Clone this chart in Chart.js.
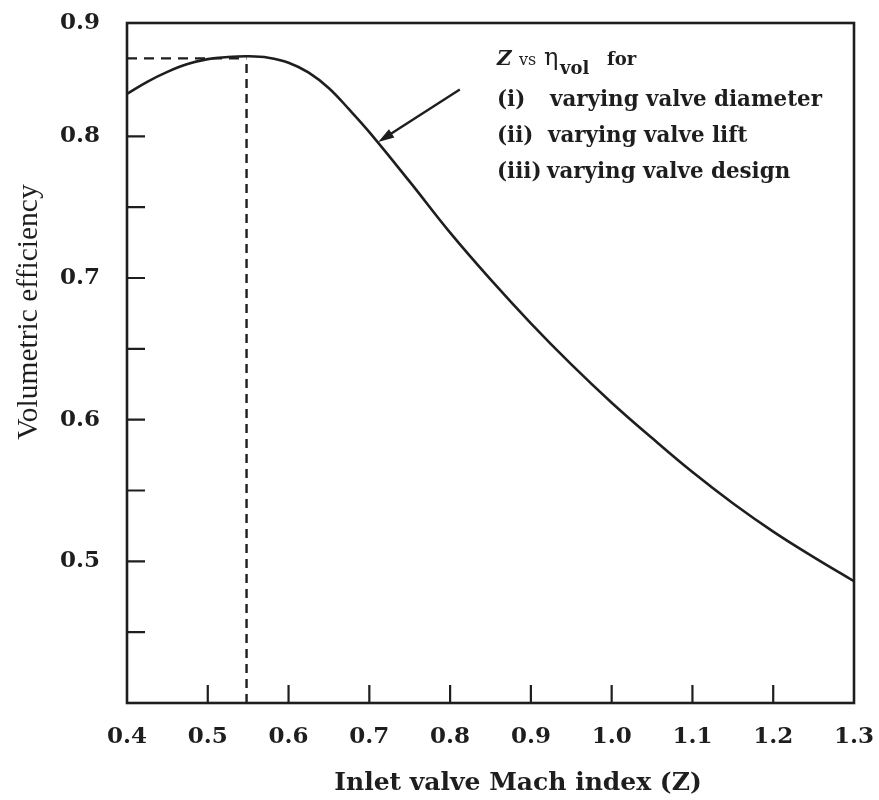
<!DOCTYPE html>
<html>
<head>
<meta charset="utf-8">
<script src="https://cdn.jsdelivr.net/npm/chart.js@4.4.0/dist/chart.umd.min.js"></script>
<style>
  html, body { margin: 0; padding: 0; background: #fff; }
  #wrap { width: 879px; height: 800px; }
</style>
</head>
<body>
<div id="wrap"><canvas id="c" width="879" height="800"></canvas></div>
<script>
// Curve: inlet valve Mach index Z vs volumetric efficiency
const zVals   = [0.40, 0.425, 0.45, 0.475, 0.50, 0.525, 0.55, 0.575, 0.60, 0.625, 0.65, 0.675, 0.70,
                 0.75, 0.80, 0.85, 0.90, 0.95, 1.00, 1.05, 1.10, 1.15, 1.20, 1.25, 1.30];
const etaVals = [0.830, 0.8385, 0.8455, 0.851, 0.8545, 0.856, 0.8565, 0.8555, 0.852, 0.845, 0.834, 0.819, 0.803,
                 0.768, 0.732, 0.699, 0.668, 0.639, 0.612, 0.587, 0.563, 0.541, 0.521, 0.503, 0.486];

// Dashed guide lines to the optimum
const zOpt   = 0.548;
const etaOpt = 0.855;

// Axis ticks
const xTicks = [0.4, 0.5, 0.6, 0.7, 0.8, 0.9, 1.0, 1.1, 1.2, 1.3];
const yTicks = [0.45, 0.5, 0.55, 0.6, 0.65, 0.7, 0.75, 0.8, 0.88];
const yTickLabels = ['', '0.5', '', '0.6', '', '0.7', '', '0.8', '0.9'];

// Annotation arrow (tail -> head, data coords)
const arrowTail = [0.812, 0.833];
const arrowHead = [0.711, 0.796];

const INK = '#1e1e1e';
const SERIF = '"DejaVu Serif", serif';

const curve = zVals.map((z, i) => ({ x: z, y: etaVals[i] }));

// set a font so that text spans a given width
function fitFont(ctx, text, style, family, width) {
  ctx.font = style + ' 100px ' + family;
  const size = 100 * width / ctx.measureText(text).width;
  ctx.font = style + ' ' + size.toFixed(1) + 'px ' + family;
}

// frame, inward ticks, arrow, annotation and titles
const decor = {
  id: 'decor',
  afterDatasetsDraw(chart) {
    const { ctx, chartArea: a, scales } = chart;
    const xs = scales.x, ys = scales.y;
    ctx.save();
    ctx.strokeStyle = INK;
    ctx.fillStyle = INK;
    ctx.lineWidth = 2.6;
    ctx.strokeRect(a.left, a.top, a.right - a.left, a.bottom - a.top);

    ctx.lineWidth = 2.2;
    ctx.beginPath();
    yTicks.slice(0, -1).forEach(v => {
      const p = ys.getPixelForValue(v);
      ctx.moveTo(a.left, p); ctx.lineTo(a.left + 18, p);
    });
    xTicks.slice(1, -1).forEach(v => {
      const p = xs.getPixelForValue(v);
      ctx.moveTo(p, a.bottom); ctx.lineTo(p, a.bottom - 18);
    });
    ctx.stroke();

    // arrow
    const tx = xs.getPixelForValue(arrowTail[0]), ty = ys.getPixelForValue(arrowTail[1]);
    const hx = xs.getPixelForValue(arrowHead[0]), hy = ys.getPixelForValue(arrowHead[1]);
    const ang = Math.atan2(hy - ty, hx - tx);
    ctx.lineWidth = 2.4;
    ctx.beginPath();
    ctx.moveTo(tx, ty);
    ctx.lineTo(hx - 10 * Math.cos(ang), hy - 10 * Math.sin(ang));
    ctx.stroke();
    ctx.beginPath();
    ctx.moveTo(hx, hy);
    ctx.lineTo(hx - 16 * Math.cos(ang) + 5 * Math.sin(ang), hy - 16 * Math.sin(ang) - 5 * Math.cos(ang));
    ctx.lineTo(hx - 16 * Math.cos(ang) - 5 * Math.sin(ang), hy - 16 * Math.sin(ang) + 5 * Math.cos(ang));
    ctx.closePath();
    ctx.fill();

    // annotation text
    const ax = a.left + 370, ay = a.top + 42;
    ctx.textBaseline = 'alphabetic';
    ctx.textAlign = 'left';
    ctx.font = 'italic bold 20px ' + SERIF;
    ctx.fillText('Z', ax, ay);
    ctx.font = '16px ' + SERIF;
    ctx.fillText('vs', ax + 22, ay);
    ctx.font = '24px ' + SERIF;
    ctx.fillText('\u03b7', ax + 47, ay);
    ctx.font = 'bold 18px ' + SERIF;
    ctx.fillText('vol', ax + 63, ay + 9);
    ctx.fillText('for', ax + 110, ay);

    const rows = [['(i)', 'varying valve diameter', 53],
                  ['(ii)', 'varying valve lift', 51],
                  ['(iii)', 'varying valve design', 50]];
    fitFont(ctx, 'varying valve diameter', 'bold', SERIF, 272);
    rows.forEach((r, i) => {
      const y = ay + 41 + i * 36;
      ctx.fillText(r[0], ax, y);
      ctx.fillText(r[1], ax + r[2], y);
    });

    // axis titles
    ctx.textAlign = 'center';
    ctx.textBaseline = 'middle';
    fitFont(ctx, 'Inlet valve Mach index (Z)', 'bold', SERIF, 368);
    ctx.fillText('Inlet valve Mach index (Z)', 518, 783);
    ctx.translate(29, 312);
    ctx.rotate(-Math.PI / 2);
    fitFont(ctx, 'Volumetric efficiency', '', '"Liberation Serif", serif', 255);
    ctx.fillText('Volumetric efficiency', 0, 0);
    ctx.restore();
  }
};

new Chart(document.getElementById('c'), {
  type: 'line',
  data: {
    datasets: [
      { data: curve, borderColor: INK, borderWidth: 2.6, pointRadius: 0, tension: 0.4 },
      { data: [{ x: 0.4, y: etaOpt }, { x: zOpt, y: etaOpt }], borderColor: INK,
        borderWidth: 2.4, borderDash: [10, 7], pointRadius: 0 },
      { data: [{ x: zOpt, y: 0.4 }, { x: zOpt, y: etaOpt }], borderColor: INK,
        borderWidth: 2.4, borderDash: [9, 6], pointRadius: 0 }
    ]
  },
  options: {
    responsive: false,
    animation: false,
    layout: { padding: { top: 23, right: 25, left: 0, bottom: 0 } },
    plugins: { legend: { display: false }, tooltip: { enabled: false } },
    scales: {
      x: {
        type: 'linear', min: 0.4, max: 1.3,
        afterBuildTicks: s => { s.ticks = xTicks.map(v => ({ value: v })); },
        afterFit: s => { s.height = 97; s.paddingLeft = 0; s.paddingRight = 0; },
        grid: { display: false }, border: { display: false },
        ticks: { color: INK, padding: 12, maxRotation: 0,
                 font: { family: SERIF, size: 23, weight: 'bold' },
                 callback: v => v.toFixed(1) }
      },
      y: {
        type: 'linear', min: 0.4, max: 0.88,
        afterBuildTicks: s => { s.ticks = yTicks.map(v => ({ value: v })); },
        afterFit: s => { s.width = 127; s.paddingTop = 0; s.paddingBottom = 0; },
        grid: { display: false }, border: { display: false },
        ticks: { color: INK, padding: 19,
                 font: { family: SERIF, size: 23, weight: 'bold' },
                 callback: (v, i) => yTickLabels[i] }
      }
    }
  },
  plugins: [decor]
});
</script>
</body>
</html>
